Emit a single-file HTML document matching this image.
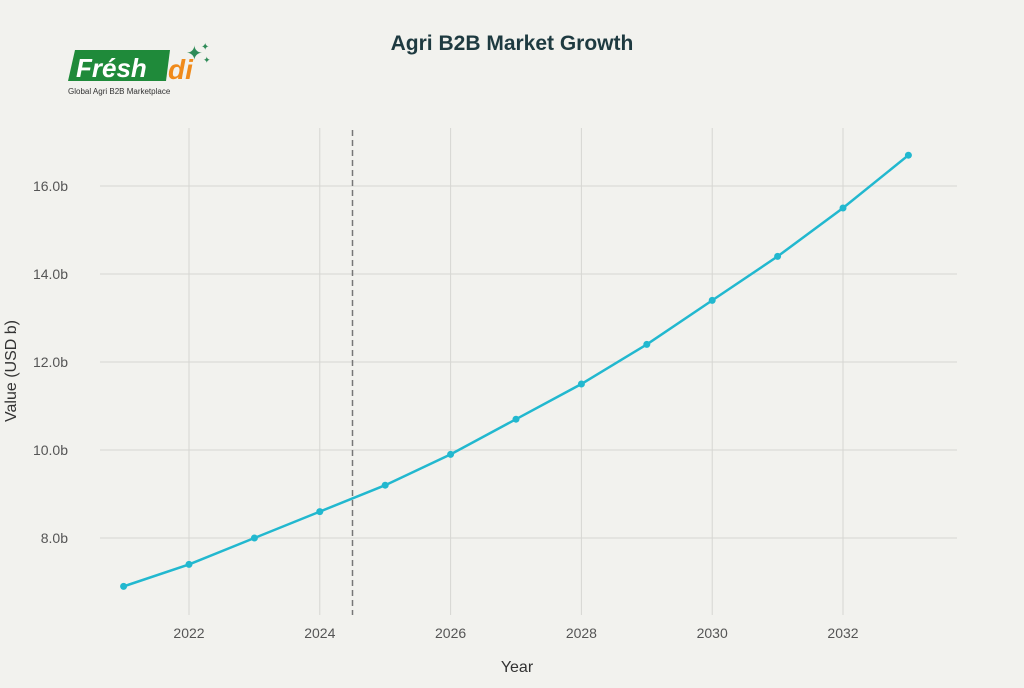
<!DOCTYPE html>
<html><head><meta charset="utf-8"><style>
body{margin:0;background:#f2f2ee;width:1024px;height:683px;overflow:hidden;font-family:"Liberation Sans",sans-serif}
</style></head><body>
<svg id="chart" width="1024" height="683" xmlns="http://www.w3.org/2000/svg">
<rect width="1024" height="683" fill="#f2f2ee"/>
<g>
<path d="M75 50 L170 50 L166 81 L68 81 Z" fill="#1f8a3a"/>
<text x="76" y="77" font-size="26" font-weight="bold" font-style="italic" fill="#fff">Frésh</text>
<text x="168" y="79" font-size="28" font-weight="bold" font-style="italic" fill="#f08a1a">di</text>
<text x="186" y="60" font-size="20" fill="#2e8b57">✦</text>
<text x="201" y="50" font-size="10" fill="#2e8b57">✦</text>
<text x="203" y="63" font-size="9" fill="#2e8b57">✦</text>
<text x="68" y="94" font-size="8" fill="#333">Global Agri B2B Marketplace</text>
</g>
<text x="512" y="50" text-anchor="middle" font-size="21" font-weight="bold" fill="#1e3a40">Agri B2B Market Growth</text>
<g id="grid"></g>
<g id="marks"></g>
<text x="517" y="672" text-anchor="middle" font-size="16" fill="#333">Year</text>
<text transform="translate(16,371) rotate(-90)" text-anchor="middle" font-size="16" fill="#333">Value (USD b)</text>
</svg>
<script>
const years=[2021,2022,2023,2024,2025,2026,2027,2028,2029,2030,2031,2032,2033];
const values=[6.9,7.4,8.0,8.6,9.2,9.9,10.7,11.5,12.4,13.4,14.4,15.5,16.7];
const xTicks=[2022,2024,2026,2028,2030,2032];
const yTicks=[8,10,12,14,16];
const forecastStart=2024.5;
const NS="http://www.w3.org/2000/svg";
const X=v=>189+(v-2022)*65.4;
const Y=v=>538-(v-8)*44;
const grid=document.getElementById('grid'),marks=document.getElementById('marks');
function mk(tag,attrs,parent){const e=document.createElementNS(NS,tag);for(const k in attrs)e.setAttribute(k,attrs[k]);parent.appendChild(e);return e;}
xTicks.forEach(t=>{
 const l=mk('line',{x1:X(t),x2:X(t),y1:128,y2:615,stroke:'#d6d6d2'},grid);
 
 
 const tx=mk('text',{x:X(t),y:638,'text-anchor':'middle','font-size':14,fill:'#555'},grid);tx.textContent=t;
 
 
});
yTicks.forEach(t=>{
 const l=mk('line',{x1:100,x2:957,y1:Y(t),y2:Y(t),stroke:'#d6d6d2'},grid);
 
 
 const tx=mk('text',{x:68,y:Y(t)+5,'text-anchor':'end','font-size':14,fill:'#555'},grid);tx.textContent=t.toFixed(1)+'b';
 
 
});
const d=mk('line',{x1:X(forecastStart),x2:X(forecastStart),y1:130,y2:615,stroke:'#777','stroke-width':1.5,'stroke-dasharray':'6,4'},marks);


const p=mk('polyline',{points:years.map((y,i)=>X(y)+','+Y(values[i])).join(' '),fill:'none',stroke:'#22b8cf','stroke-width':2.5},marks);


years.forEach((y,i)=>{
 const c=mk('circle',{cx:X(y),cy:Y(values[i]),r:3.5,fill:'#22b8cf'},marks);
 
 
});
</script>
</body></html>
